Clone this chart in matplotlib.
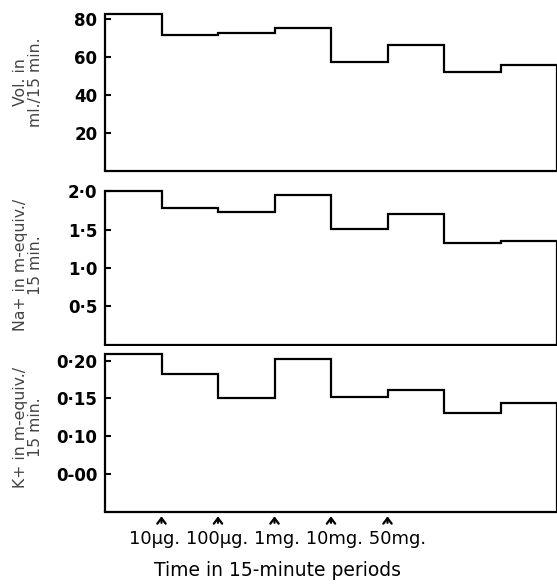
import matplotlib
matplotlib.use('Agg')
import matplotlib.pyplot as plt
import numpy as np

plt.rcParams['font.family'] = ['DejaVu Sans']

# 15-minute periods (8 periods, edges 0..8)
period_edges = np.arange(0, 9)
vol_values = [82.8, 71.8, 72.8, 75.5, 57.5, 66.5, 52.2, 55.9]
na_values = [2.00, 1.78, 1.73, 1.95, 1.51, 1.70, 1.33, 1.355]
k_values = [0.209, 0.182, 0.151, 0.202, 0.152, 0.161, 0.130, 0.144]

vol_ticks = [20, 40, 60, 80]
vol_ticklabels = ['20', '40', '60', '80']
na_ticks = [0.5, 1.0, 1.5, 2.0]
na_ticklabels = ['0·5', '1·0', '1·5', '2·0']
k_ticks = [0.05, 0.10, 0.15, 0.20]
k_ticklabels = ['0-00', '0·10', '0·15', '0·20']

# doses given at the start of periods 2..6
dose_positions = [1, 2, 3, 4, 5]
dose_labels = ['10μg.', '100μg.', '1mg.', '10mg.', '50mg.']

W, H = 557, 584
fig = plt.figure(figsize=(W / 100, H / 100), dpi=100)
fig.patch.set_facecolor('white')


def px_axes(top_px, bottom_px):
    left = 105 / W
    return fig.add_axes([left, 1 - bottom_px / H, 1 - left, (bottom_px - top_px) / H])


panels = [
    (px_axes(10, 171), vol_values, (0, 85), vol_ticks, vol_ticklabels,
     'Vol. in\nml./15 min.', 82),
    (px_axes(183.6, 344.5), na_values, (0, 2.1), na_ticks, na_ticklabels,
     'Na+ in m-equiv./\n15 min.', 265),
    (px_axes(345.6, 511.5), k_values, (0, 0.22), k_ticks, k_ticklabels,
     'K+ in m-equiv./\n15 min.', 427),
]

for ax, vals, ylim, ticks, tlabels, ylab, ylab_px in panels:
    ax.stairs(vals, period_edges, baseline=ylim[0], fill=False,
              color='black', linewidth=1.6, clip_on=False)
    ax.set_xlim(0, 8)
    ax.set_ylim(*ylim)
    for s in ['top', 'right', 'left']:
        ax.spines[s].set_visible(False)
    ax.spines['bottom'].set_linewidth(1.6)
    ax.set_xticks([])
    ax.set_yticks(ticks)
    ax.set_yticklabels(tlabels)
    ax.tick_params(axis='y', direction='in', length=4, width=1.5, pad=5.5,
                   labelsize=12)
    for t in ax.get_yticklabels():
        t.set_fontweight('bold')
    fig.text(28 / W, 1 - ylab_px / H, ylab, rotation=90, ha='center',
             va='center', multialignment='center', linespacing=1.05,
             fontsize=11.3, color='#444444')

# dose arrows under the bottom panel
ax_k = panels[2][0]
for xpos in dose_positions:
    ax_k.annotate('', xy=(xpos, -0.012), xytext=(xpos, -0.085),
                  xycoords=('data', 'axes fraction'),
                  textcoords=('data', 'axes fraction'),
                  arrowprops=dict(arrowstyle='->,head_width=0.3,head_length=0.4',
                                  color='black', lw=1.6))

# dose labels printed as one line below the arrows
fig.text(277.5 / W, 1 - 539 / H, ' '.join(dose_labels), ha='center',
         va='center', fontsize=13)

fig.text(277 / W, 1 - 570 / H, 'Time in 15-minute periods', ha='center',
         va='center', fontsize=13.5)

fig.savefig('out.png', dpi=100, facecolor='white')
